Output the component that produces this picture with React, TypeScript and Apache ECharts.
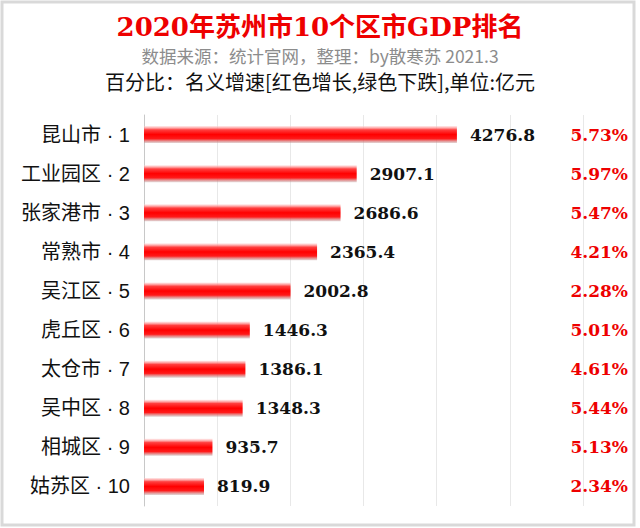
import React, { useEffect, useRef } from "react";
import * as echarts from "echarts";

const districts = ["昆山市", "工业园区", "张家港市", "常熟市", "吴江区", "虎丘区", "太仓市", "吴中区", "相城区", "姑苏区"];
const gdpValues = [4276.8, 2907.1, 2686.6, 2365.4, 2002.8, 1446.3, 1386.1, 1348.3, 935.7, 819.9];
const growthRates = ["5.73%", "5.97%", "5.47%", "4.21%", "2.28%", "5.01%", "4.61%", "5.44%", "5.13%", "2.34%"];
const titleText = "2020年苏州市10个区市GDP排名";
const sourceText = "数据来源：统计官网，整理：by散寒苏 2021.3";
const noteText = "百分比：名义增速[红色增长,绿色下跌],单位:亿元";

const serifBold = "'DejaVu Serif', 'Noto Sans CJK SC', serif";

export default function App() {
  const ref = useRef<HTMLDivElement>(null);
  useEffect(() => {
    if (!ref.current) return;
    const chart = echarts.init(ref.current, undefined, { renderer: "svg" });
    const labels = districts.map((d, i) => `${d} \u00B7 ${i + 1}`);
    chart.setOption({
      animation: false,
      backgroundColor: "#ffffff",
      graphic: [
        {
          type: "rect",
          shape: { x: 2, y: 2, width: 632, height: 523 },
          style: { fill: "none", stroke: "#d9d9d9", lineWidth: 3 },
          silent: true,
        },
        {
          type: "text",
          x: 320,
          y: 27,
          style: {
            text: titleText,
            fill: "#ee0000",
            font: `bold 26px ${serifBold}`,
            align: "center",
            verticalAlign: "middle",
          },
        },
        {
          type: "text",
          x: 320,
          y: 55,
          style: {
            text: sourceText,
            fill: "#8c8c8c",
            font: "17.5px 'Noto Sans CJK SC', sans-serif",
            align: "center",
            verticalAlign: "middle",
          },
        },
        {
          type: "text",
          x: 320,
          y: 81,
          style: {
            text: noteText,
            fill: "#111111",
            font: "20px 'Noto Sans CJK SC', sans-serif",
            align: "center",
            verticalAlign: "middle",
          },
        },
      ],
      grid: { left: 144, right: 57, top: 115, bottom: 22, containLabel: false },
      xAxis: {
        type: "value",
        min: 0,
        max: 6000,
        interval: 1000,
        axisLabel: { show: false },
        axisLine: { show: false },
        axisTick: { show: false },
        splitLine: { lineStyle: { color: "#e8e8e8", width: 1 } },
      },
      yAxis: [
        {
          type: "category",
          data: labels,
          inverse: true,
          axisTick: { show: false },
          axisLine: { lineStyle: { color: "#c8c8c8", width: 1 } },
          axisLabel: {
            color: "#111111",
            fontSize: 20,
            fontFamily: "'Liberation Sans', 'Noto Sans CJK SC', sans-serif",
            margin: 14,
          },
        },
        {
          type: "category",
          data: growthRates,
          inverse: true,
          position: "right",
          axisTick: { show: false },
          axisLine: { show: false },
          axisLabel: {
            color: "#ee0000",
            fontSize: 17,
            fontWeight: "bold",
            fontFamily: serifBold,
            align: "right",
            margin: 45,
          },
        },
      ],
      series: [
        {
          type: "bar",
          yAxisIndex: 0,
          data: gdpValues,
          barWidth: 17,
          itemStyle: {
            color: new echarts.graphic.LinearGradient(0, 0, 0, 1, [
              { offset: 0, color: "rgba(255,210,210,0.5)" },
              { offset: 0.22, color: "#ff4040" },
              { offset: 0.5, color: "#ff0000" },
              { offset: 0.75, color: "#ff1a1a" },
              { offset: 1, color: "rgba(190,160,160,0.45)" },
            ]),
          },
          label: {
            show: true,
            position: "right",
            distance: 13,
            color: "#111111",
            fontSize: 17,
            fontWeight: "bold",
            fontFamily: serifBold,
            formatter: (p: any) => p.value.toFixed(1),
          },
        },
      ],
    });
    return () => chart.dispose();
  }, []);
  return <div ref={ref} style={{ position: "absolute", left: 0, top: 0, width: 640, height: 528 }} />;
}
